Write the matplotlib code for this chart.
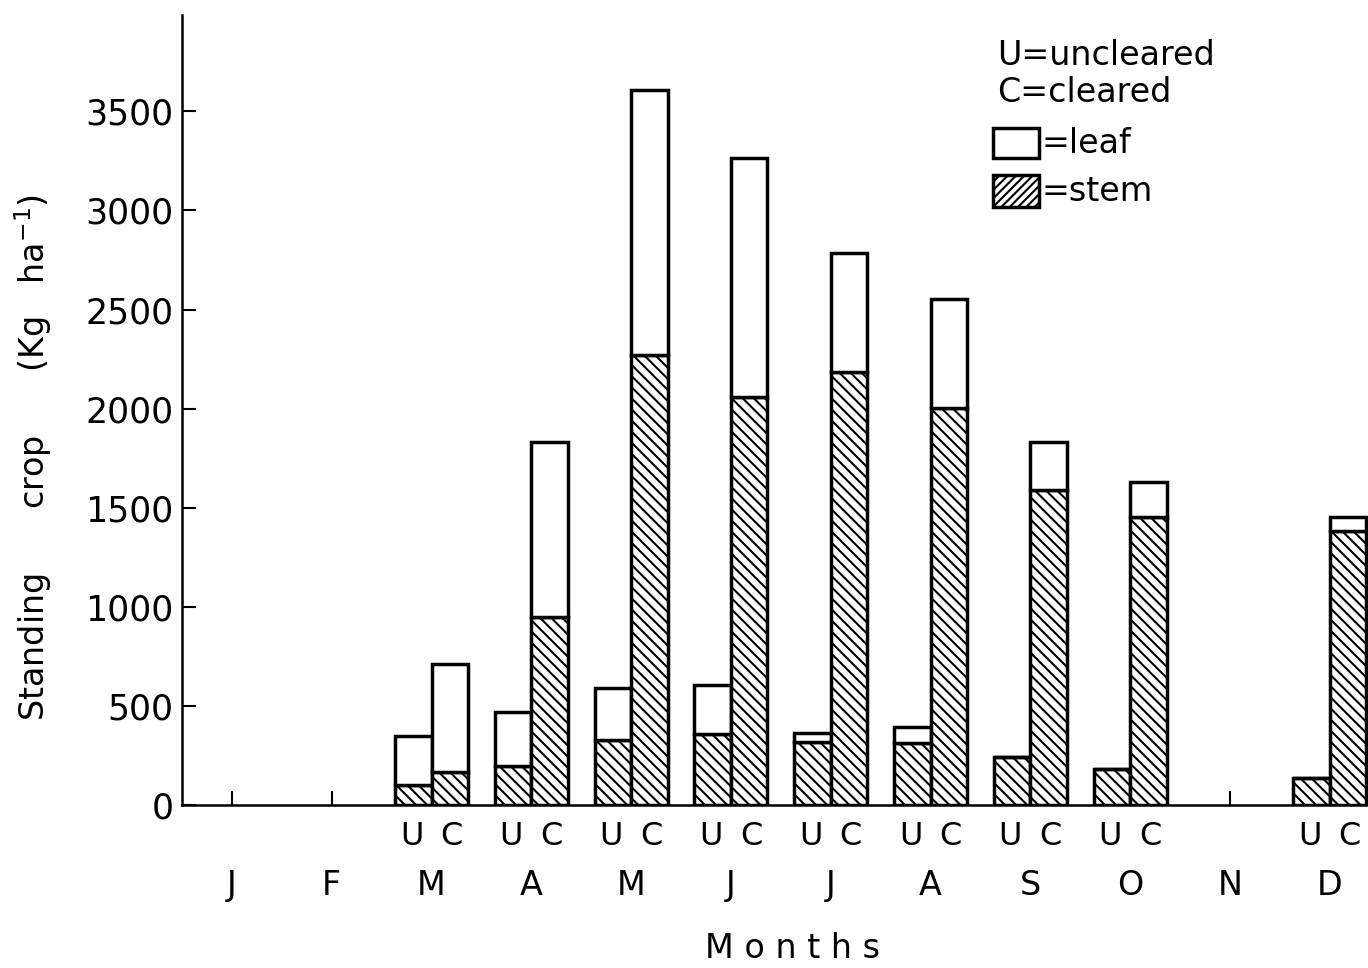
import matplotlib.pyplot as plt
import numpy as np
from matplotlib.patches import Rectangle

# -----------------------
# data (kg/ha)
months = ['J', 'F', 'M', 'A', 'M', 'J', 'J', 'A', 'S', 'O', 'N', 'D']
# month index where bars exist
bar_months = [2, 3, 4, 5, 6, 7, 8, 9, 11]
u_stem = [105, 200, 330, 360, 318, 313, 242, 181, 136]
u_total = [350, 469, 590, 605, 363, 393, 242, 181, 136]
c_stem = [166, 948, 2270, 2057, 2184, 2002, 1589, 1452, 1381]
c_total = [711, 1831, 3606, 3263, 2784, 2552, 1831, 1629, 1452]
yticks = [0, 500, 1000, 1500, 2000, 2500, 3000, 3500]
# -----------------------

plt.rcParams['hatch.linewidth'] = 1.5
plt.rcParams['font.family'] = 'DejaVu Sans'

fig = plt.figure(figsize=(13.68, 9.68), dpi=100)
ax = fig.add_axes([0.133, 0.168, 0.867, 0.8165])

x = np.array(bar_months, dtype=float)
w = 0.366
u_stem = np.array(u_stem)
u_total = np.array(u_total)
c_stem = np.array(c_stem)
c_total = np.array(c_total)

# uncleared (left of month centre)
ax.bar(x - w / 2, u_stem, width=w, color='white', edgecolor='black', lw=2.5, hatch='\\\\\\')
ax.bar(x - w / 2, u_total - u_stem, bottom=u_stem, width=w, color='white', edgecolor='black', lw=2.5)
# cleared (right of month centre)
ax.bar(x + w / 2, c_stem, width=w, color='white', edgecolor='black', lw=2.5, hatch='\\\\\\')
ax.bar(x + w / 2, c_total - c_stem, bottom=c_stem, width=w, color='white', edgecolor='black', lw=2.5)

ax.set_xlim(-0.501, 11.383)
ax.set_ylim(0, 3985)

for s in ['top', 'right']:
    ax.spines[s].set_visible(False)
for s in ['left', 'bottom']:
    ax.spines[s].set_linewidth(1.8)

ax.set_yticks(yticks)
ax.set_yticklabels([str(v) for v in yticks])
ax.tick_params(axis='y', direction='in', length=10, width=1.5, labelsize=25, pad=6)

ax.set_xticks(range(12))
ax.set_xticklabels(months)
ax.tick_params(axis='x', which='major', direction='in', length=10, width=1.5, labelsize=24, pad=46)

# U / C sub-labels as minor ticks
minor_pos = []
minor_lab = []
for m in bar_months:
    minor_pos += [m - 0.2, m + 0.2]
    minor_lab += ['U', 'C']
ax.set_xticks(minor_pos, minor=True)
ax.set_xticklabels(minor_lab, minor=True)
ax.tick_params(axis='x', which='minor', length=0, labelsize=23, pad=11)

ax.set_xlabel('M o n t h s', fontsize=24)
ax.xaxis.set_label_coords(0.515, -0.16)
ax.set_ylabel('Standing      crop      (Kg   ha$^{-1}$)', fontsize=24)
ax.yaxis.set_label_coords(-0.108, 0.44)

# legend drawn by hand
ax.text(0.687, 0.949, 'U=uncleared', transform=ax.transAxes, fontsize=24, va='center')
ax.text(0.687, 0.902, 'C=cleared', transform=ax.transAxes, fontsize=24, va='center')
ax.add_patch(Rectangle((0.684, 0.819), 0.039, 0.038, transform=ax.transAxes,
                       facecolor='white', edgecolor='black', lw=2.5))
ax.add_patch(Rectangle((0.684, 0.757), 0.039, 0.040, transform=ax.transAxes,
                       facecolor='white', edgecolor='black', lw=2.5, hatch='////'))
ax.text(0.725, 0.838, '=leaf', transform=ax.transAxes, fontsize=24, va='center')
ax.text(0.725, 0.777, '=stem', transform=ax.transAxes, fontsize=24, va='center')

fig.savefig('out.png', dpi=100)
